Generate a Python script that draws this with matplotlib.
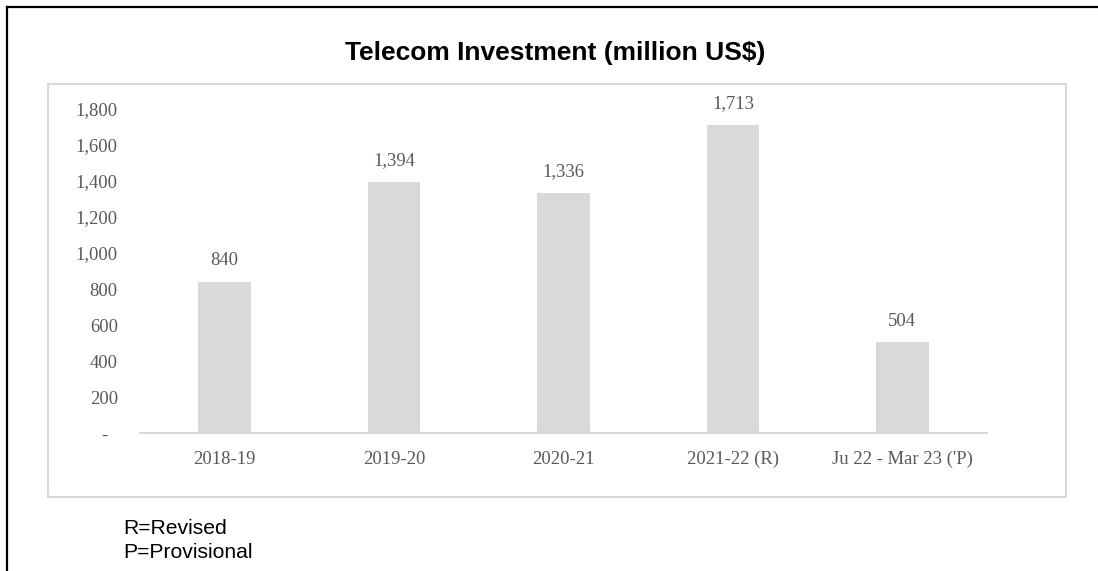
import matplotlib.pyplot as plt
from matplotlib.patches import Rectangle
from matplotlib.lines import Line2D

periods = ["2018-19", "2019-20", "2020-21", "2021-22 (R)", "Ju 22 - Mar 23 ('P)"]
investment = [840, 1394, 1336, 1713, 504]
y_ticks = [0, 200, 400, 600, 800, 1000, 1200, 1400, 1600, 1800]

grey_text = "#595959"
bar_grey = "#D9D9D9"

fig = plt.figure(figsize=(10.98, 5.71), dpi=100)

# outer frame (left and top edges) and inner chart box
fig.add_artist(Line2D([7 / 1098, 7 / 1098], [0, 1 - 7 / 571], color="black", lw=1.6))
fig.add_artist(Line2D([7 / 1098, 1], [1 - 7 / 571, 1 - 7 / 571], color="black", lw=1.6))
fig.add_artist(Rectangle((48 / 1098, 74 / 571), (1066 - 48) / 1098, (497 - 84) / 571,
                         fill=False, edgecolor=bar_grey, lw=1.5))

ax = fig.add_axes([140 / 1098, 138 / 571, (987 - 140) / 1098, (433 - 109) / 571])
x = range(len(periods))
bars = ax.bar(x, investment, width=0.31, color=bar_grey)

for xi, v in zip(x, investment):
    ax.annotate(f"{v:,}", (xi, v), xytext=(0, 9), textcoords="offset points",
                ha="center", va="bottom", fontsize=13.4, family="Liberation Serif",
                color=grey_text, annotation_clip=False)

ax.set_xlim(-0.5, len(periods) - 0.5)
ax.set_ylim(0, 1800)
ax.set_yticks(y_ticks)
ax.set_yticklabels(["-  " if t == 0 else f"{t:,}" for t in y_ticks])
ax.set_xticks(list(x))
ax.set_xticklabels(periods)
ax.tick_params(axis="y", length=0, pad=16, labelsize=13.4, labelcolor=grey_text)
ax.tick_params(axis="x", length=0, pad=13, labelsize=13.4, labelcolor=grey_text)
for lab in ax.get_xticklabels() + ax.get_yticklabels():
    lab.set_family("Liberation Serif")

for side in ["top", "right", "left"]:
    ax.spines[side].set_visible(False)
ax.spines["bottom"].set_color(bar_grey)
ax.spines["bottom"].set_linewidth(1.5)

fig.text(555 / 1098, 1 - 53 / 571, "Telecom Investment (million US$)",
         ha="center", va="center", fontsize=19, fontweight="bold",
         family="Liberation Sans", color="black")

fig.text(123 / 1098, 1 - 528 / 571, "R=Revised", ha="left", va="center",
         fontsize=15.2, family="Liberation Sans", color="black")
fig.text(123 / 1098, 1 - 552 / 571, "P=Provisional", ha="left", va="center",
         fontsize=15.2, family="Liberation Sans", color="black")

fig.savefig("out.png", dpi=100)
